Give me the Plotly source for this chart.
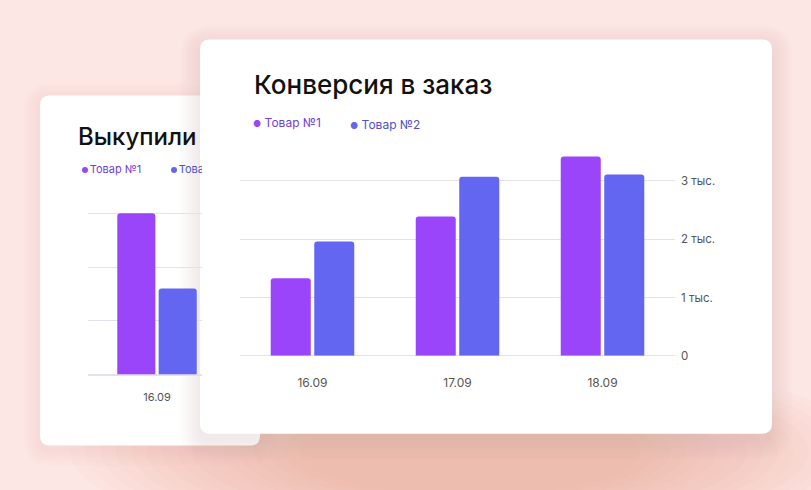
import plotly.graph_objects as go

W, H = 811, 490

# ---------------- data ----------------
dates_main = ["16.09", "17.09", "18.09"]
conv_tovar1 = [1330, 2390, 3420]
conv_tovar2 = [1960, 3070, 3110]

dates_back = ["16.09"]
buy_tovar1 = [3000]
buy_tovar2 = [1600]

ytick_vals = [0, 1000, 2000, 3000]
ytick_text = ["0", "1 тыс.", "2 тыс.", "3 тыс."]
series_names = ["Товар №1", "Товар №2"]
title_main = "Конверсия в заказ"
title_back = "Выкупили"

PURPLE = "#9b45fb"
BLUE = "#6366f1"
TXT1 = "#7440d6"
TXT2 = "#4d52c8"
GRID = "#e4e1ea"
FONT = "Inter"


def X(p):
    return p / W


def Y(p):
    return 1 - p / H


def rrect(x0, y0, x1, y1, r):
    def P(x, y):
        return f"{X(x):.5f},{Y(y):.5f}"
    return (f"M {P(x0 + r, y0)} L {P(x1 - r, y0)} Q {P(x1, y0)} {P(x1, y0 + r)} "
            f"L {P(x1, y1 - r)} Q {P(x1, y1)} {P(x1 - r, y1)} "
            f"L {P(x0 + r, y1)} Q {P(x0, y1)} {P(x0, y1 - r)} "
            f"L {P(x0, y0 + r)} Q {P(x0, y0)} {P(x0 + r, y0)} Z")


shapes = []
# warm glow under the cards (many faint layers for a soft gradient)
N = 16
for i in range(N):
    t = i / (N - 1)
    rx = 400 - t * 230
    ry = 100 - t * 55
    cx, cy = 470, 458
    shapes.append(dict(type="circle", xref="paper", yref="paper",
                       x0=X(cx - rx), x1=X(cx + rx), y0=Y(cy + ry), y1=Y(cy - ry),
                       fillcolor="#ec9378", opacity=0.04, line_width=0, layer="below"))

# back card shadow + card
for i in range(6):
    g = 16 - i * 3
    shapes.append(dict(type="path", xref="paper", yref="paper",
                       path=rrect(40 - g, 97 - g + 4, 260 + g, 452 + g + 4, 10 + g),
                       fillcolor="#e0a9a3", opacity=0.035, line_width=0, layer="below"))
shapes.append(dict(type="path", xref="paper", yref="paper",
                   path=rrect(40, 97, 260, 452, 10),
                   fillcolor="white", line_width=0, layer="below"))

# main card shadow + card
for i in range(7):
    g = 20 - i * 3
    shapes.append(dict(type="path", xref="paper", yref="paper",
                       path=rrect(200 - g, 40 - g + 6, 772 + g, 440 + g + 6, 10 + g),
                       fillcolor="#b89a9a", opacity=0.03, line_width=0, layer="below"))
shapes.append(dict(type="path", xref="paper", yref="paper",
                   path=rrect(200, 40, 772, 440, 10),
                   fillcolor="white", line_width=0, layer="below"))

fig = go.Figure()

# main chart
fig.add_trace(go.Bar(x=dates_main, y=conv_tovar1, name=series_names[0],
                     marker=dict(color=PURPLE, cornerradius=3, line_width=0),
                     xaxis="x", yaxis="y"))
fig.add_trace(go.Bar(x=dates_main, y=conv_tovar2, name=series_names[1],
                     marker=dict(color=BLUE, cornerradius=3, line_width=0),
                     xaxis="x", yaxis="y"))

# back chart
fig.add_trace(go.Bar(x=dates_back, y=buy_tovar1, name=series_names[0],
                     marker=dict(color=PURPLE, cornerradius=3, line_width=0),
                     xaxis="x2", yaxis="y2"))
fig.add_trace(go.Bar(x=dates_back, y=buy_tovar2, name=series_names[1],
                     marker=dict(color=BLUE, cornerradius=3, line_width=0),
                     xaxis="x2", yaxis="y2"))

# back legend (clipped by the front card edge)
fig.add_trace(go.Scatter(x=[85, 174], y=[0, 0], mode="markers+text",
                         text=series_names, textposition="middle right",
                         textfont=dict(family=FONT, size=11, color=[TXT1, TXT2]),
                         marker=dict(color=[PURPLE, BLUE], size=6),
                         cliponaxis=True, hoverinfo="skip",
                         xaxis="x3", yaxis="y3"))

fig.update_layout(
    width=W, height=H, margin=dict(l=0, r=0, t=0, b=0),
    paper_bgcolor="#fde7e4", plot_bgcolor="rgba(0,0,0,0)",
    showlegend=False, barmode="group", bargap=0.4, bargroupgap=0.08,
    font=dict(family=FONT, color="#555"),
    shapes=shapes,
    xaxis=dict(domain=[X(240), X(675)], anchor="y", range=[-0.5, 2.5],
               showgrid=False, showline=False, zeroline=False, ticks="",
               tickfont=dict(size=12, color="#555"), ticklabelstandoff=18),
    yaxis=dict(domain=[Y(361), Y(148)], anchor="x", range=[0, 3600], side="right",
               tickvals=ytick_vals, ticktext=ytick_text, showline=False,
               gridcolor=GRID, gridwidth=1, zeroline=True, zerolinecolor=GRID,
               zerolinewidth=1, ticks="", tickfont=dict(size=11.5, color="#555"),
               ticklabelstandoff=5),
    xaxis2=dict(domain=[X(88), X(202)], anchor="y2", range=[-0.5, 0.326],
                showgrid=False, showline=False, zeroline=False, ticks="",
                tickfont=dict(size=11, color="#555"), ticklabelstandoff=14),
    yaxis2=dict(domain=[Y(380), Y(200)], anchor="x2", range=[0, 3300],
                tickvals=ytick_vals, showticklabels=False, showline=False,
                gridcolor=GRID, zeroline=True, zerolinecolor=GRID, ticks=""),
    xaxis3=dict(domain=[X(42), X(202)], anchor="y3", range=[42, 202], visible=False),
    yaxis3=dict(domain=[Y(185), Y(160)], anchor="x3", range=[-1, 1], visible=False),
    annotations=[
        dict(text=title_main, x=X(252), y=Y(86), xref="paper", yref="paper",
             xanchor="left", yanchor="middle", showarrow=False,
             font=dict(family=FONT, size=26, weight=500, color="#111")),
        dict(text=title_back, x=X(76), y=Y(138), xref="paper", yref="paper",
             xanchor="left", yanchor="middle", showarrow=False,
             font=dict(family=FONT, size=24, weight=500, color="#111")),
        dict(text=f"<span style='color:{PURPLE};font-size:9px'>●</span> {series_names[0]}",
             x=X(251), y=Y(124), xref="paper", yref="paper",
             xanchor="left", yanchor="middle", showarrow=False,
             font=dict(family=FONT, size=12, color=TXT1)),
        dict(text=f"<span style='color:{BLUE};font-size:9px'>●</span> {series_names[1]}",
             x=X(348), y=Y(126), xref="paper", yref="paper",
             xanchor="left", yanchor="middle", showarrow=False,
             font=dict(family=FONT, size=12, color=TXT2)),
    ],
)

fig.write_html("out.html", config={"displayModeBar": False},
               post_script="document.body.style.margin='0';document.body.style.overflow='hidden';")
